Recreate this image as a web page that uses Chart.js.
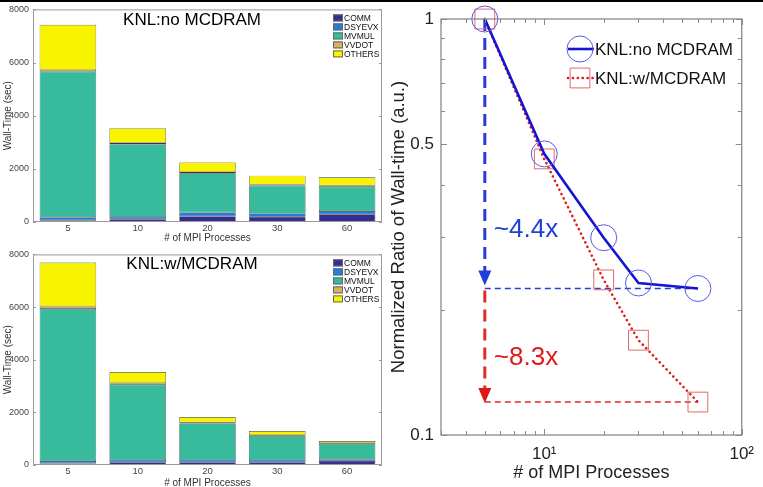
<!DOCTYPE html>
<html>
<head>
<meta charset="utf-8">
<script src="https://cdn.jsdelivr.net/npm/chart.js@4.4.1/dist/chart.umd.min.js"></script>
<style>
html, body { margin: 0; padding: 0; background: #fff; }
body { width: 763px; height: 487px; position: relative; overflow: hidden; }
canvas { position: absolute; }
#topStrip { position: absolute; left: 0; top: 0; width: 763px; height: 2px; background: #000; }
</style>
</head>
<body>
<canvas id="noMc" width="382" height="245" style="left:0;top:0"></canvas>
<canvas id="withMc" width="382" height="244" style="left:0;top:245px"></canvas>
<canvas id="ratio" width="381" height="487" style="left:382px;top:0"></canvas>
<div id="topStrip"></div>
<script>
var procLabels = ["5", "10", "20", "30", "60"];
var partNames = ["COMM", "DSYEVX", "MVMUL", "VVDOT", "OTHERS"];
var partColors = ["#372c8f", "#1c80dc", "#38bb9c", "#d6b25e", "#f8f400"];

// KNL without MCDRAM, wall time per part (sec)
var noMcComm = [70, 100, 220, 200, 290];
var noMcDsyevx = [110, 100, 140, 120, 120];
var noMcMvmul = [5480, 2730, 1470, 1050, 920];
var noMcVvdot = [60, 50, 50, 40, 40];
var noMcOthers = [1700, 550, 360, 330, 310];

// KNL with MCDRAM
var wMcComm = [60, 100, 100, 100, 150];
var wMcDsyevx = [90, 90, 90, 90, 70];
var wMcMvmul = [5780, 2860, 1390, 920, 580];
var wMcVvdot = [100, 60, 40, 30, 30];
var wMcOthers = [1660, 420, 200, 150, 80];

var wallTicks = [0, 2000, 4000, 6000, 8000];

// normalized ratio, log-log panel
var procCounts = [5, 10, 20, 30, 60];
var ratioNoMc = [1, 0.474, 0.298, 0.232, 0.225];
var ratioWithMc = [1, 0.461, 0.236, 0.169, 0.12];
var ratioTicks = [0.1, 0.2, 0.3, 0.4, 0.5, 0.6, 0.7, 0.8, 0.9, 1];
var ratioTickLabels = [0.1, 0.5, 1];
var procTicks = [3, 4, 5, 6, 7, 8, 9, 10, 20, 30, 40, 50, 60, 70, 80, 90, 100];
var speedupLabels = ["~4.4x", "~8.3x"];

var fam = "'Liberation Sans', Arial, sans-serif";
var noGrid = { display: false, drawTicks: false, tickLength: 0 };

var barDecor = {
  id: "barDecor",
  afterDatasetsDraw: function(chart, args, opts) {
    var ctx = chart.ctx, a = chart.chartArea, y = chart.scales.y;
    ctx.save();
    ctx.strokeStyle = "#9a9a9a";
    ctx.lineWidth = 1;
    ctx.strokeRect(a.left + 0.5, a.top + 0.5, a.right - a.left - 1, a.bottom - a.top - 1);
    y.ticks.forEach(function(t) {
      var py = Math.round(y.getPixelForValue(t.value)) + 0.5;
      ctx.beginPath();
      ctx.moveTo(a.left, py); ctx.lineTo(a.left + 3, py);
      ctx.moveTo(a.right, py); ctx.lineTo(a.right - 3, py);
      ctx.stroke();
    });
    ctx.fillStyle = "#000";
    ctx.font = "17px " + fam;
    ctx.textAlign = "center";
    ctx.textBaseline = "middle";
    ctx.fillText(opts.text, a.left + opts.titleX, a.top + opts.titleY);
    ctx.font = "8.5px " + fam;
    ctx.textAlign = "left";
    chart.data.datasets.forEach(function(ds, i) {
      var ly = a.top + opts.legendTop + i * opts.legendStep;
      ctx.fillStyle = ds.backgroundColor;
      ctx.fillRect(a.right - 49, ly - 3.5, 10, 7);
      ctx.strokeStyle = "#666";
      ctx.strokeRect(a.right - 48.5, ly - 3, 9, 6);
      ctx.fillStyle = "#111";
      ctx.fillText(ds.label, a.right - 38, ly + 0.5);
    });
    ctx.restore();
  }
};

function makeBars(id, title, parts, pad) {
  return new Chart(document.getElementById(id), {
    type: "bar",
    data: {
      labels: procLabels,
      datasets: parts.map(function(d, i) {
        return {
          label: partNames[i], data: d, backgroundColor: partColors[i],
          borderColor: "#3a3a3a", borderWidth: 0.6, borderSkipped: false,
          barPercentage: 0.81, categoryPercentage: 1
        };
      })
    },
    options: {
      responsive: false,
      animation: false,
      layout: { padding: { top: pad.top, right: 0, left: 0, bottom: 0 } },
      plugins: {
        legend: { display: false },
        tooltip: { enabled: false },
        barDecor: { text: title, titleX: pad.titleX, titleY: pad.titleY, legendTop: 8.5, legendStep: 9 }
      },
      scales: {
        x: {
          stacked: true,
          grid: noGrid, border: { display: false },
          ticks: { color: "#444", font: { family: fam, size: 9.5 }, padding: 1 },
          title: { display: true, text: "# of MPI Processes", color: "#333", font: { family: fam, size: 10 }, padding: { top: 0, bottom: pad.titlePad } },
          afterFit: function(s) { s.height = pad.bottom; }
        },
        y: {
          stacked: true, min: 0, max: 8000,
          afterBuildTicks: function(s) { s.ticks = wallTicks.map(function(v) { return { value: v }; }); },
          grid: noGrid, border: { display: false },
          ticks: { color: "#444", font: { family: fam, size: 9 }, padding: 4, callback: function(v) { return String(v); } },
          title: { display: true, text: "Wall-Time (sec)", color: "#333", font: { family: fam, size: 10 }, padding: { top: 2, bottom: 0 } },
          afterFit: function(s) { s.width = 33; }
        }
      }
    },
    plugins: [barDecor]
  });
}

makeBars("noMc", "KNL:no MCDRAM", [noMcComm, noMcDsyevx, noMcMvmul, noMcVvdot, noMcOthers],
  { top: 7, bottom: 23, titleX: 159, titleY: 11, titlePad: 1 });
makeBars("withMc", "KNL:w/MCDRAM", [wMcComm, wMcDsyevx, wMcMvmul, wMcVvdot, wMcOthers],
  { top: 6, bottom: 24, titleX: 159, titleY: 9.5, titlePad: 0 });

function arrowDown(ctx, x, yTip, color) {
  ctx.fillStyle = color;
  ctx.beginPath();
  ctx.moveTo(x - 6.5, yTip - 15);
  ctx.lineTo(x + 6.5, yTip - 15);
  ctx.lineTo(x, yTip);
  ctx.closePath();
  ctx.fill();
}

var ratioDecor = {
  id: "ratioDecor",
  beforeDatasetsDraw: function(chart) {
    var ctx = chart.ctx, xs = chart.scales.x, ys = chart.scales.y;
    var x0 = xs.getPixelForValue(procCounts[0]);
    var xEnd = xs.getPixelForValue(procCounts[procCounts.length - 1]);
    var yTop = ys.getPixelForValue(ratioNoMc[0]);
    var yBlue = ys.getPixelForValue(ratioNoMc[ratioNoMc.length - 1]);
    var yRed = ys.getPixelForValue(ratioWithMc[ratioWithMc.length - 1]);
    ctx.save();
    // horizontal guides
    ctx.lineWidth = 1.5;
    ctx.setLineDash([6, 4]);
    ctx.strokeStyle = "#2a3ad6";
    ctx.beginPath(); ctx.moveTo(x0, yBlue); ctx.lineTo(xEnd, yBlue); ctx.stroke();
    ctx.strokeStyle = "#e22a2a";
    ctx.beginPath(); ctx.moveTo(x0, yRed); ctx.lineTo(xEnd, yRed); ctx.stroke();
    // vertical arrows
    ctx.lineWidth = 3;
    ctx.setLineDash([12, 7]);
    ctx.strokeStyle = "#2a3ad6";
    ctx.beginPath(); ctx.moveTo(x0, yTop); ctx.lineTo(x0, yBlue - 12); ctx.stroke();
    ctx.strokeStyle = "#e22a2a";
    ctx.beginPath(); ctx.moveTo(x0, yBlue + 2); ctx.lineTo(x0, yRed - 12); ctx.stroke();
    ctx.setLineDash([]);
    arrowDown(ctx, x0, yBlue - 3, "#1f3fe0");
    arrowDown(ctx, x0, yRed + 1, "#e01515");
    ctx.restore();
  },
  afterDatasetsDraw: function(chart) {
    var ctx = chart.ctx, a = chart.chartArea, xs = chart.scales.x, ys = chart.scales.y;
    ctx.save();
    ctx.strokeStyle = "#8a8a8a";
    ctx.lineWidth = 1.3;
    ctx.strokeRect(a.left, a.top, a.right - a.left, a.bottom - a.top);
    ctx.lineWidth = 1;
    ys.ticks.forEach(function(t) {
      var py = Math.round(ys.getPixelForValue(t.value)) + 0.5;
      var len = ratioTickLabels.indexOf(t.value) >= 0 ? 6 : 4;
      ctx.beginPath();
      ctx.moveTo(a.left, py); ctx.lineTo(a.left + len, py);
      ctx.moveTo(a.right, py); ctx.lineTo(a.right - len, py);
      ctx.stroke();
    });
    xs.ticks.forEach(function(t) {
      var px = Math.round(xs.getPixelForValue(t.value)) + 0.5;
      var len = (t.value === 10 || t.value === 100) ? 6 : 4;
      ctx.beginPath();
      ctx.moveTo(px, a.bottom); ctx.lineTo(px, a.bottom - len);
      ctx.moveTo(px, a.top); ctx.lineTo(px, a.top + len);
      ctx.stroke();
    });
    // speedup labels
    var x0 = xs.getPixelForValue(procCounts[0]);
    ctx.font = "26px " + fam;
    ctx.textAlign = "left";
    ctx.textBaseline = "alphabetic";
    ctx.fillStyle = "#1f3fd8";
    ctx.fillText(speedupLabels[0], x0 + 9, ys.getPixelForValue(ratioNoMc[4]) - 51);
    ctx.fillStyle = "#e01a1a";
    ctx.fillText(speedupLabels[1], x0 + 9, ys.getPixelForValue(ratioWithMc[4]) - 37);
    // legend
    ctx.font = "17px " + fam;
    ctx.textBaseline = "middle";
    chart.data.datasets.forEach(function(ds, i) {
      var ly = 49 + i * 29, lx = 200;
      ctx.strokeStyle = ds.borderColor;
      ctx.lineWidth = ds.borderWidth;
      ctx.setLineDash(ds.borderDash || []);
      ctx.lineCap = ds.borderCapStyle || "butt";
      ctx.beginPath(); ctx.moveTo(lx - 14, ly); ctx.lineTo(lx + 12, ly); ctx.stroke();
      ctx.setLineDash([]);
      ctx.lineCap = "butt";
      ctx.fillStyle = "rgba(0,0,0,0)";
      ctx.strokeStyle = ds.pointBorderColor;
      ctx.lineWidth = 1;
      Chart.helpers.drawPoint(ctx, {
        pointStyle: ds.pointStyle, radius: ds.pointRadius, borderWidth: 1, rotation: 0
      }, lx - 2, ly);
      ctx.fillStyle = "#111";
      ctx.fillText(ds.label, 213, ly + 1);
    });
    ctx.restore();
  }
};

new Chart(document.getElementById("ratio"), {
  type: "line",
  data: {
    datasets: [
      {
        label: "KNL:no MCDRAM",
        data: procCounts.map(function(x, i) { return { x: x, y: ratioNoMc[i] }; }),
        borderColor: "#1414d2", borderWidth: 2.6, tension: 0,
        pointStyle: "circle", pointRadius: 13, pointBorderColor: "#5a5ae2",
        pointBorderWidth: 1, pointBackgroundColor: "rgba(0,0,0,0)", clip: false
      },
      {
        label: "KNL:w/MCDRAM",
        data: procCounts.map(function(x, i) { return { x: x, y: ratioWithMc[i] }; }),
        borderColor: "#e01818", borderWidth: 2.6, borderDash: [0.1, 4.8], borderCapStyle: "round", tension: 0,
        pointStyle: "rect", pointRadius: 14, pointBorderColor: "#e06a6a",
        pointBorderWidth: 1, pointBackgroundColor: "rgba(0,0,0,0)", clip: false
      }
    ]
  },
  options: {
    responsive: false,
    animation: false,
    layout: { padding: { top: 19, right: 18, left: 0, bottom: 0 } },
    plugins: { legend: { display: false }, tooltip: { enabled: false } },
    scales: {
      x: {
        type: "logarithmic", min: 3, max: 100,
        afterBuildTicks: function(s) { s.ticks = procTicks.map(function(v) { return { value: v }; }); },
        grid: noGrid, border: { display: false },
        ticks: {
          autoSkip: false, maxRotation: 0, padding: 9, color: "#222",
          font: { family: fam, size: 17 },
          callback: function(v) { return v === 10 ? "10\u00b9" : (v === 100 ? "10\u00b2" : ""); }
        },
        title: { display: true, text: "# of MPI Processes", color: "#222", font: { family: fam, size: 18 }, padding: { top: 0, bottom: 3 } },
        afterFit: function(s) { s.height = 52; }
      },
      y: {
        type: "logarithmic", min: 0.1, max: 1,
        afterBuildTicks: function(s) { s.ticks = ratioTicks.map(function(v) { return { value: v }; }); },
        grid: noGrid, border: { display: false },
        ticks: {
          autoSkip: false, padding: 7, color: "#222",
          font: { family: fam, size: 17 },
          callback: function(v) { return ratioTickLabels.indexOf(v) >= 0 ? String(v) : ""; }
        },
        title: { display: true, text: "Normalized Ratio of Wall-time (a.u.)", color: "#222", font: { family: fam, size: 18.5 }, padding: { top: 6, bottom: 0 } },
        afterFit: function(s) { s.width = 59; }
      }
    }
  },
  plugins: [ratioDecor]
});
</script>
</body>
</html>
